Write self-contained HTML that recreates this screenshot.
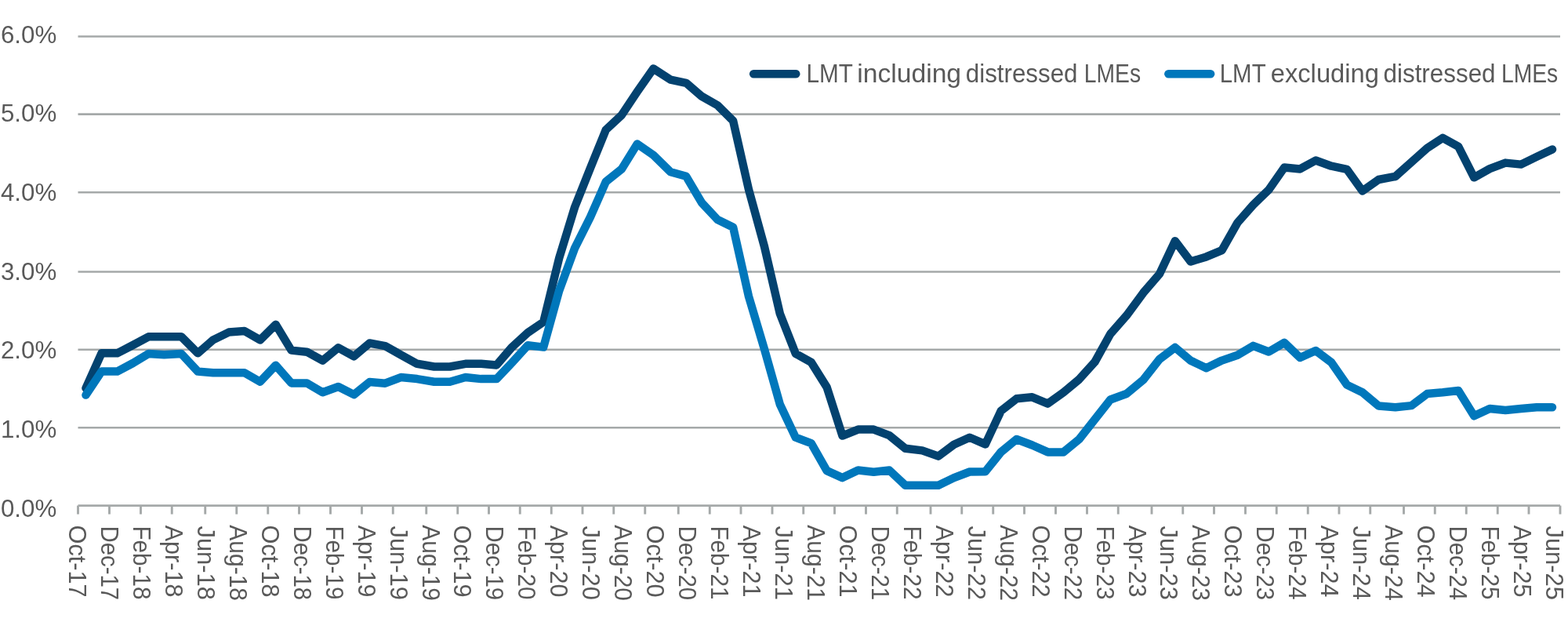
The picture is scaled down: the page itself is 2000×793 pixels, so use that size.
<!DOCTYPE html>
<html lang="en">
<head>
<meta charset="utf-8">
<title>LMT including and excluding distressed LMEs</title>
<style>
html,body{margin:0;padding:0;background:#fff;}
body{width:2000px;height:793px;overflow:hidden;font-family:"Liberation Sans",sans-serif;}
svg{display:block;}
text{font-family:"Liberation Sans",sans-serif;fill:#595959;}
.g{stroke:#a5a9a9;stroke-width:2.6;fill:none;}
.t{stroke:#a5a9a9;stroke-width:2.9;fill:none;}
.s{fill:none;stroke-width:10.5;stroke-linejoin:round;stroke-linecap:round;}
.yl{font-size:30.8px;}
.xl{font-size:32.0px;}
.lg{font-size:32.5px;}
</style>
</head>
<body>
<svg width="2000" height="793" viewBox="0 0 2000 793">
<rect x="0" y="0" width="2000" height="793" fill="#ffffff"/>
<g class="g">
<line x1="99.5" y1="46.5" x2="1990" y2="46.5"/>
<line x1="99.5" y1="145.6" x2="1990" y2="145.6"/>
<line x1="99.5" y1="245.2" x2="1990" y2="245.2"/>
<line x1="99.5" y1="346.5" x2="1990" y2="346.5"/>
<line x1="99.5" y1="445.7" x2="1990" y2="445.7"/>
<line x1="99.5" y1="545.2" x2="1990" y2="545.2"/>
<line x1="99.5" y1="644.6" x2="1990" y2="644.6"/>
</g>
<g class="t">
<line x1="99.50" y1="644.6" x2="99.50" y2="655.6"/>
<line x1="139.50" y1="644.6" x2="139.50" y2="655.6"/>
<line x1="179.50" y1="644.6" x2="179.50" y2="655.6"/>
<line x1="219.25" y1="644.6" x2="219.25" y2="655.6"/>
<line x1="261.75" y1="644.6" x2="261.75" y2="655.6"/>
<line x1="301.75" y1="644.6" x2="301.75" y2="655.6"/>
<line x1="341.75" y1="644.6" x2="341.75" y2="655.6"/>
<line x1="381.50" y1="644.6" x2="381.50" y2="655.6"/>
<line x1="421.50" y1="644.6" x2="421.50" y2="655.6"/>
<line x1="461.50" y1="644.6" x2="461.50" y2="655.6"/>
<line x1="501.25" y1="644.6" x2="501.25" y2="655.6"/>
<line x1="543.75" y1="644.6" x2="543.75" y2="655.6"/>
<line x1="583.75" y1="644.6" x2="583.75" y2="655.6"/>
<line x1="623.50" y1="644.6" x2="623.50" y2="655.6"/>
<line x1="663.25" y1="644.6" x2="663.25" y2="655.6"/>
<line x1="703.25" y1="644.6" x2="703.25" y2="655.6"/>
<line x1="743.00" y1="644.6" x2="743.00" y2="655.6"/>
<line x1="782.75" y1="644.6" x2="782.75" y2="655.6"/>
<line x1="822.75" y1="644.6" x2="822.75" y2="655.6"/>
<line x1="865.25" y1="644.6" x2="865.25" y2="655.6"/>
<line x1="905.25" y1="644.6" x2="905.25" y2="655.6"/>
<line x1="945.00" y1="644.6" x2="945.00" y2="655.6"/>
<line x1="985.00" y1="644.6" x2="985.00" y2="655.6"/>
<line x1="1024.75" y1="644.6" x2="1024.75" y2="655.6"/>
<line x1="1064.50" y1="644.6" x2="1064.50" y2="655.6"/>
<line x1="1104.50" y1="644.6" x2="1104.50" y2="655.6"/>
<line x1="1144.25" y1="644.6" x2="1144.25" y2="655.6"/>
<line x1="1187.00" y1="644.6" x2="1187.00" y2="655.6"/>
<line x1="1226.75" y1="644.6" x2="1226.75" y2="655.6"/>
<line x1="1266.75" y1="644.6" x2="1266.75" y2="655.6"/>
<line x1="1306.50" y1="644.6" x2="1306.50" y2="655.6"/>
<line x1="1346.50" y1="644.6" x2="1346.50" y2="655.6"/>
<line x1="1386.50" y1="644.6" x2="1386.50" y2="655.6"/>
<line x1="1426.25" y1="644.6" x2="1426.25" y2="655.6"/>
<line x1="1469.00" y1="644.6" x2="1469.00" y2="655.6"/>
<line x1="1508.75" y1="644.6" x2="1508.75" y2="655.6"/>
<line x1="1548.50" y1="644.6" x2="1548.50" y2="655.6"/>
<line x1="1588.50" y1="644.6" x2="1588.50" y2="655.6"/>
<line x1="1628.25" y1="644.6" x2="1628.25" y2="655.6"/>
<line x1="1668.25" y1="644.6" x2="1668.25" y2="655.6"/>
<line x1="1708.00" y1="644.6" x2="1708.00" y2="655.6"/>
<line x1="1747.75" y1="644.6" x2="1747.75" y2="655.6"/>
<line x1="1790.50" y1="644.6" x2="1790.50" y2="655.6"/>
<line x1="1830.25" y1="644.6" x2="1830.25" y2="655.6"/>
<line x1="1870.25" y1="644.6" x2="1870.25" y2="655.6"/>
<line x1="1910.25" y1="644.6" x2="1910.25" y2="655.6"/>
<line x1="1950.00" y1="644.6" x2="1950.00" y2="655.6"/>
<line x1="1990.00" y1="644.6" x2="1990.00" y2="655.6"/>
</g>
<g>
<text class="yl" x="0.95" y="54.6" textLength="71.32" lengthAdjust="spacingAndGlyphs">6.0%</text>
<text class="yl" x="0.95" y="154.9" textLength="71.32" lengthAdjust="spacingAndGlyphs">5.0%</text>
<text class="yl" x="0.95" y="255.9" textLength="71.32" lengthAdjust="spacingAndGlyphs">4.0%</text>
<text class="yl" x="0.95" y="356.9" textLength="71.32" lengthAdjust="spacingAndGlyphs">3.0%</text>
<text class="yl" x="0.95" y="457.0" textLength="71.32" lengthAdjust="spacingAndGlyphs">2.0%</text>
<text class="yl" x="0.95" y="557.9" textLength="71.32" lengthAdjust="spacingAndGlyphs">1.0%</text>
<text class="yl" x="0.95" y="658.6" textLength="71.32" lengthAdjust="spacingAndGlyphs">0.0%</text>
</g>
<g>
<text class="xl" transform="translate(88.00 669.52) rotate(90)" textLength="92.15" lengthAdjust="spacingAndGlyphs">Oct-17</text>
<text class="xl" transform="translate(128.95 670.45) rotate(90)" textLength="94.68" lengthAdjust="spacingAndGlyphs">Dec-17</text>
<text class="xl" transform="translate(169.91 670.42) rotate(90)" textLength="94.07" lengthAdjust="spacingAndGlyphs">Feb-18</text>
<text class="xl" transform="translate(210.87 669.75) rotate(90)" textLength="91.62" lengthAdjust="spacingAndGlyphs">Apr-18</text>
<text class="xl" transform="translate(251.82 670.44) rotate(90)" textLength="94.58" lengthAdjust="spacingAndGlyphs">Jun-18</text>
<text class="xl" transform="translate(292.77 669.25) rotate(90)" textLength="96.79" lengthAdjust="spacingAndGlyphs">Aug-18</text>
<text class="xl" transform="translate(333.73 669.52) rotate(90)" textLength="92.15" lengthAdjust="spacingAndGlyphs">Oct-18</text>
<text class="xl" transform="translate(374.69 670.45) rotate(90)" textLength="94.68" lengthAdjust="spacingAndGlyphs">Dec-18</text>
<text class="xl" transform="translate(415.64 670.42) rotate(90)" textLength="94.07" lengthAdjust="spacingAndGlyphs">Feb-19</text>
<text class="xl" transform="translate(456.59 669.75) rotate(90)" textLength="91.62" lengthAdjust="spacingAndGlyphs">Apr-19</text>
<text class="xl" transform="translate(497.55 670.44) rotate(90)" textLength="94.58" lengthAdjust="spacingAndGlyphs">Jun-19</text>
<text class="xl" transform="translate(538.50 669.25) rotate(90)" textLength="96.79" lengthAdjust="spacingAndGlyphs">Aug-19</text>
<text class="xl" transform="translate(579.46 669.52) rotate(90)" textLength="92.15" lengthAdjust="spacingAndGlyphs">Oct-19</text>
<text class="xl" transform="translate(620.41 670.45) rotate(90)" textLength="94.68" lengthAdjust="spacingAndGlyphs">Dec-19</text>
<text class="xl" transform="translate(661.37 670.42) rotate(90)" textLength="94.07" lengthAdjust="spacingAndGlyphs">Feb-20</text>
<text class="xl" transform="translate(702.32 669.75) rotate(90)" textLength="91.62" lengthAdjust="spacingAndGlyphs">Apr-20</text>
<text class="xl" transform="translate(743.28 670.44) rotate(90)" textLength="94.58" lengthAdjust="spacingAndGlyphs">Jun-20</text>
<text class="xl" transform="translate(784.24 669.25) rotate(90)" textLength="96.79" lengthAdjust="spacingAndGlyphs">Aug-20</text>
<text class="xl" transform="translate(825.19 669.52) rotate(90)" textLength="92.15" lengthAdjust="spacingAndGlyphs">Oct-20</text>
<text class="xl" transform="translate(866.14 670.45) rotate(90)" textLength="94.68" lengthAdjust="spacingAndGlyphs">Dec-20</text>
<text class="xl" transform="translate(907.10 670.42) rotate(90)" textLength="94.07" lengthAdjust="spacingAndGlyphs">Feb-21</text>
<text class="xl" transform="translate(948.05 669.75) rotate(90)" textLength="91.62" lengthAdjust="spacingAndGlyphs">Apr-21</text>
<text class="xl" transform="translate(989.01 670.44) rotate(90)" textLength="94.58" lengthAdjust="spacingAndGlyphs">Jun-21</text>
<text class="xl" transform="translate(1029.96 669.25) rotate(90)" textLength="96.79" lengthAdjust="spacingAndGlyphs">Aug-21</text>
<text class="xl" transform="translate(1070.92 669.52) rotate(90)" textLength="92.15" lengthAdjust="spacingAndGlyphs">Oct-21</text>
<text class="xl" transform="translate(1111.88 670.45) rotate(90)" textLength="94.68" lengthAdjust="spacingAndGlyphs">Dec-21</text>
<text class="xl" transform="translate(1152.83 670.42) rotate(90)" textLength="94.07" lengthAdjust="spacingAndGlyphs">Feb-22</text>
<text class="xl" transform="translate(1193.78 669.75) rotate(90)" textLength="91.62" lengthAdjust="spacingAndGlyphs">Apr-22</text>
<text class="xl" transform="translate(1234.74 670.44) rotate(90)" textLength="94.58" lengthAdjust="spacingAndGlyphs">Jun-22</text>
<text class="xl" transform="translate(1275.69 669.25) rotate(90)" textLength="96.79" lengthAdjust="spacingAndGlyphs">Aug-22</text>
<text class="xl" transform="translate(1316.65 669.52) rotate(90)" textLength="92.15" lengthAdjust="spacingAndGlyphs">Oct-22</text>
<text class="xl" transform="translate(1357.61 670.45) rotate(90)" textLength="94.68" lengthAdjust="spacingAndGlyphs">Dec-22</text>
<text class="xl" transform="translate(1398.56 670.42) rotate(90)" textLength="94.07" lengthAdjust="spacingAndGlyphs">Feb-23</text>
<text class="xl" transform="translate(1439.51 669.75) rotate(90)" textLength="91.62" lengthAdjust="spacingAndGlyphs">Apr-23</text>
<text class="xl" transform="translate(1480.47 670.44) rotate(90)" textLength="94.58" lengthAdjust="spacingAndGlyphs">Jun-23</text>
<text class="xl" transform="translate(1521.42 669.25) rotate(90)" textLength="96.79" lengthAdjust="spacingAndGlyphs">Aug-23</text>
<text class="xl" transform="translate(1562.38 669.52) rotate(90)" textLength="92.15" lengthAdjust="spacingAndGlyphs">Oct-23</text>
<text class="xl" transform="translate(1603.34 670.45) rotate(90)" textLength="94.68" lengthAdjust="spacingAndGlyphs">Dec-23</text>
<text class="xl" transform="translate(1644.29 670.42) rotate(90)" textLength="94.07" lengthAdjust="spacingAndGlyphs">Feb-24</text>
<text class="xl" transform="translate(1685.24 669.75) rotate(90)" textLength="91.62" lengthAdjust="spacingAndGlyphs">Apr-24</text>
<text class="xl" transform="translate(1726.20 670.44) rotate(90)" textLength="94.58" lengthAdjust="spacingAndGlyphs">Jun-24</text>
<text class="xl" transform="translate(1767.15 669.25) rotate(90)" textLength="96.79" lengthAdjust="spacingAndGlyphs">Aug-24</text>
<text class="xl" transform="translate(1808.11 669.52) rotate(90)" textLength="92.15" lengthAdjust="spacingAndGlyphs">Oct-24</text>
<text class="xl" transform="translate(1849.06 670.45) rotate(90)" textLength="94.68" lengthAdjust="spacingAndGlyphs">Dec-24</text>
<text class="xl" transform="translate(1890.02 670.42) rotate(90)" textLength="94.07" lengthAdjust="spacingAndGlyphs">Feb-25</text>
<text class="xl" transform="translate(1930.97 669.75) rotate(90)" textLength="91.62" lengthAdjust="spacingAndGlyphs">Apr-25</text>
<text class="xl" transform="translate(1971.93 670.44) rotate(90)" textLength="94.58" lengthAdjust="spacingAndGlyphs">Jun-25</text>
</g>
<polyline class="s" stroke="#03426f" points="109.5,494.9 129.5,450.3 149.5,450.3 169.5,440.0 189.4,429.3 209.3,429.3 231.3,429.3 252.3,450.3 271.8,433.4 291.8,423.6 311.8,422.0 331.8,433.4 351.7,413.8 371.6,446.6 391.5,448.7 411.5,459.7 431.5,443.3 451.5,454.3 471.4,437.5 491.3,441.1 511.2,452.3 532.0,463.8 553.8,467.5 573.8,467.5 593.7,463.8 613.6,463.8 633.4,465.4 653.3,442.3 673.2,424.2 693.2,410.5 713.2,329.0 733.1,264.1 752.9,214.5 772.8,165.5 792.8,146.8 812.8,116.9 833.4,87.5 855.3,101.6 875.2,105.8 895.2,122.9 915.2,134.3 935.1,154.0 955.0,241.6 975.0,314.5 994.9,400.2 1014.8,450.8 1034.7,461.9 1054.6,493.6 1074.5,555.6 1094.5,547.6 1114.4,547.6 1134.3,555.1 1154.9,571.8 1176.3,574.4 1196.9,581.6 1216.8,566.8 1236.8,557.7 1256.8,566.4 1276.7,523.9 1296.6,508.3 1316.5,506.3 1336.5,514.6 1356.5,500.2 1376.5,483.6 1396.4,461.6 1416.3,425.8 1436.9,402.3 1458.3,373.3 1478.9,349.4 1498.8,307.2 1518.7,333.5 1538.6,327.4 1558.5,319.1 1578.5,283.9 1598.4,261.2 1618.3,241.9 1638.2,213.6 1658.2,215.4 1678.2,204.5 1698.1,211.7 1717.9,215.8 1737.8,243.5 1758.4,229.0 1779.8,225.0 1800.4,206.6 1820.3,188.9 1840.2,175.9 1860.2,186.8 1880.2,226.3 1900.2,215.2 1920.2,207.6 1940.1,209.6 1960.0,199.9 1980.0,190.5"/>
<polyline class="s" stroke="#0077bb" points="109.5,503.6 129.5,473.6 149.5,473.6 169.5,463.0 189.4,451.0 209.3,452.3 231.3,451.0 252.3,473.6 271.8,475.2 291.8,475.2 311.8,475.2 331.8,486.7 351.7,465.7 371.6,488.4 391.5,488.4 411.5,500.2 431.5,493.0 451.5,503.1 471.4,487.0 491.3,488.7 511.2,481.1 532.0,483.1 553.8,486.7 573.8,486.7 593.7,481.0 613.6,483.1 633.4,483.1 653.3,462.1 673.2,440.2 693.2,442.6 713.2,370.7 733.1,316.4 752.9,276.9 772.8,231.7 792.8,215.7 812.8,183.5 833.4,197.8 855.3,219.2 875.2,224.8 895.2,258.7 915.2,280.0 935.1,289.7 955.0,378.0 975.0,445.2 994.9,515.8 1014.8,557.7 1034.7,565.1 1054.6,600.1 1074.5,609.1 1094.5,599.5 1114.4,601.7 1134.3,599.5 1154.9,618.8 1176.3,618.8 1196.9,618.8 1216.8,609.1 1236.8,601.5 1256.8,601.3 1276.7,576.4 1296.6,560.0 1316.5,567.5 1336.5,576.4 1356.5,576.4 1376.5,560.0 1396.4,534.8 1416.3,509.5 1436.9,502.0 1458.3,484.3 1478.9,458.0 1498.8,443.0 1518.7,459.7 1538.6,469.2 1558.5,459.6 1578.5,452.8 1598.4,440.9 1618.3,448.5 1638.2,436.9 1658.2,456.0 1678.2,447.0 1698.1,462.0 1717.9,490.6 1737.8,500.3 1758.4,517.5 1779.8,519.2 1800.4,517.1 1820.3,502.1 1840.2,500.3 1860.2,498.0 1880.2,530.3 1900.2,521.0 1920.2,522.9 1940.1,521.0 1960.0,519.2 1980.0,519.2"/>
<g>
<line x1="961.2" y1="94.3" x2="1015.2" y2="94.3" stroke="#03426f" stroke-width="10.6" stroke-linecap="round"/>
<text class="lg" y="105.0"><tspan x="1028.44" textLength="58.89" lengthAdjust="spacingAndGlyphs">LMT</tspan> <tspan x="1093.21" textLength="132.88" lengthAdjust="spacingAndGlyphs">including</tspan> <tspan x="1231.75" textLength="142.77" lengthAdjust="spacingAndGlyphs">distressed</tspan> <tspan x="1382.74" textLength="72.29" lengthAdjust="spacingAndGlyphs">LMEs</tspan></text>
<line x1="1490.4" y1="94.3" x2="1544.1" y2="94.3" stroke="#0077bb" stroke-width="10.6" stroke-linecap="round"/>
<text class="lg" y="105.0"><tspan x="1555.66" textLength="58.47" lengthAdjust="spacingAndGlyphs">LMT</tspan> <tspan x="1620.73" textLength="138.20" lengthAdjust="spacingAndGlyphs">excluding</tspan> <tspan x="1764.55" textLength="142.98" lengthAdjust="spacingAndGlyphs">distressed</tspan> <tspan x="1914.94" textLength="72.29" lengthAdjust="spacingAndGlyphs">LMEs</tspan></text>
</g>
</svg>
</body>
</html>
